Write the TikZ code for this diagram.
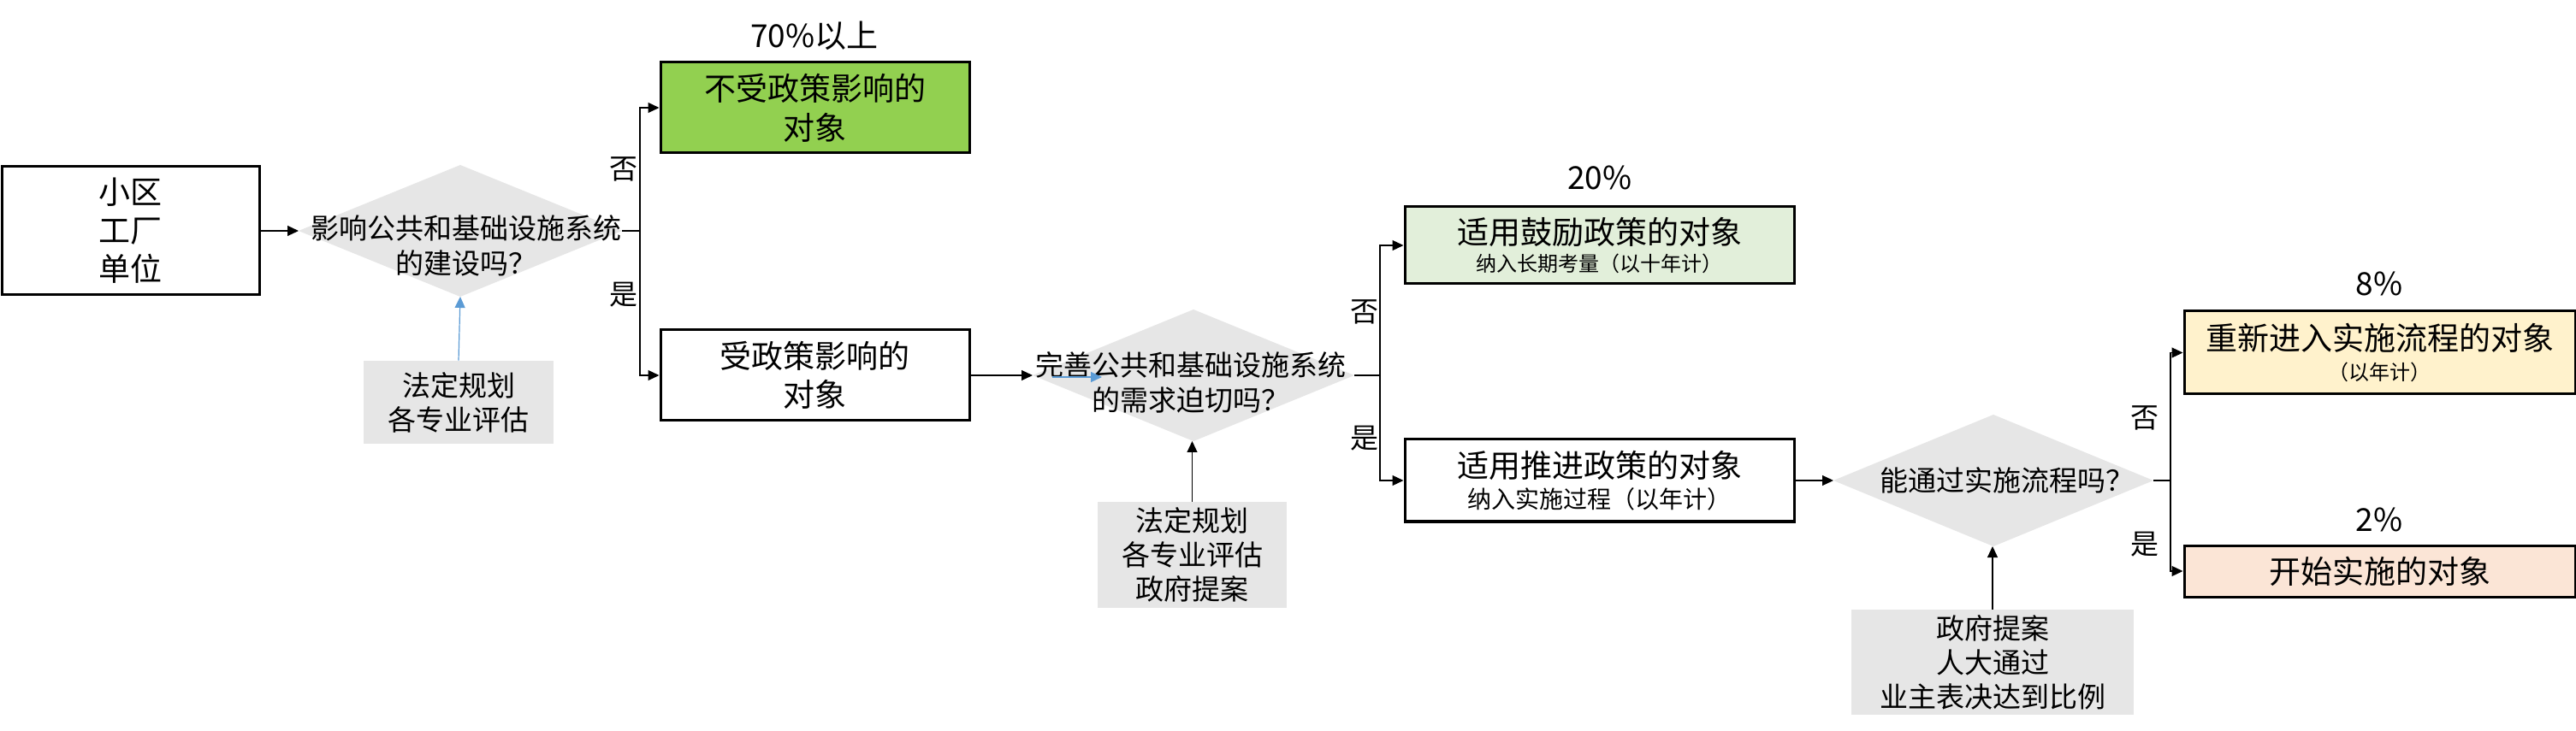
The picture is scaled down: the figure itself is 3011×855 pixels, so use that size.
\documentclass[tikz,border=0pt]{standalone}
\usepackage{fontspec}
\setmainfont{Noto Sans CJK SC}
\usetikzlibrary{shapes.geometric,arrows.meta}
\definecolor{grayfill}{HTML}{E6E6E6}
\definecolor{greenA}{HTML}{92D050}
\definecolor{greenL}{HTML}{E2EFDA}
\definecolor{yellowL}{HTML}{FFF2CC}
\definecolor{peachL}{HTML}{FBE5D6}
\definecolor{blueA}{HTML}{5B9BD5}
\newcommand\fsz[2]{\fontsize{#1pt}{#2pt}\selectfont}
\tikzset{
  boxnode/.style={draw, line width=1.5pt, inner sep=0pt, align=center},
  graynode/.style={fill=grayfill, inner sep=0pt, align=center, font=\fsz{16.5}{20}},
  dianode/.style={diamond, fill=grayfill, inner sep=0pt, outer sep=0pt},
  lbl/.style={inner sep=0pt, align=center},
  conn/.style={line width=0.6pt},
  arr/.style={line width=0.6pt, -{Triangle[length=6.5pt,width=6pt]}},
}
\begin{document}
\begin{tikzpicture}[x=0.5pt,y=-0.5pt]
\useasboundingbox (0,0) rectangle (3011,855);
\fill[white] (0,0) rectangle (3011,855);

% first column
\node[boxnode, minimum width=150.5pt, minimum height=75pt, font=\fsz{18.5}{22.5}] (A) at (152.5,270) {小区\\工厂\\单位};
\node[dianode, minimum width=189pt, minimum height=77pt] (d1) at (538,270) {};
\node[lbl, font=\fsz{16.5}{20.5}] (t1) at (545,287) {影响公共和基础设施系统\\的建设吗？};
\node[graynode, minimum width=111pt, minimum height=48.5pt] (g1) at (536,470.5) {法定规划\\各专业评估};

\draw[arr] (A.east) -- (d1.west);
\draw[arr, draw=blueA] (g1.north) -- (d1.south);

% second column
\node[boxnode, fill=greenA, minimum width=180.5pt, minimum height=53pt, font=\fsz{18.5}{23}] (o1) at (952.5,126) {不受政策影响的\\对象};
\node[lbl, font=\fsz{18.5}{22}] (p1) at (952,42) {70\%以上};
\node[boxnode, minimum width=180.5pt, minimum height=53pt, font=\fsz{18.5}{22.5}] (o2) at (952.5,439) {受政策影响的\\对象};
\node[lbl, font=\fsz{16.5}{20}] (n1) at (729,198) {否};
\node[lbl, font=\fsz{16.5}{20}] (y1) at (729,345) {是};
\coordinate (j1) at (748,270);
\draw[conn] (d1.east) -- (j1);
\draw[arr] (j1) |- (o1.west);
\draw[arr] (j1) |- (o2.west);

% second decision
\node[dianode, minimum width=188pt, minimum height=77pt] (d2) at (1395,439) {};
\node[lbl, font=\fsz{16.5}{20.5}] (t2) at (1392,447) {完善公共和基础设施系统\\的需求迫切吗？};
\node[graynode, minimum width=110.5pt, minimum height=62pt] (g2) at (1393.5,649) {法定规划\\各专业评估\\政府提案};
\draw[arr] (o2.east) -- (d2.west);
\draw[arr] (g2.north) -- (g2.north |- d2.south);
\coordinate (ba1) at (1230,441);
\coordinate (ba2) at (1288,441);
\draw[arr, draw=blueA] (ba1) -- (ba2);

% third column
\node[lbl, font=\fsz{18.5}{22}] (p2) at (1870,208) {20\%};
\node[boxnode, fill=greenL, minimum width=227.5pt, minimum height=45pt, font=\fsz{12}{16}] (r1) at (1869.5,287) {{\fsz{18.5}{16}适用鼓励政策的对象}\\纳入长期考量（以十年计）};
\node[boxnode, minimum width=227.5pt, minimum height=48pt, font=\fsz{14}{18}] (r2) at (1869.5,562) {{\fsz{18.5}{18}适用推进政策的对象}\\纳入实施过程（以年计）};
\node[lbl, font=\fsz{16.5}{20}] (n2) at (1595,365) {否};
\node[lbl, font=\fsz{16.5}{20}] (y2) at (1595,513) {是};
\coordinate (j2) at (1613,439);
\draw[conn] (d2.east) -- (j2);
\draw[arr] (j2) |- (r1.west);
\draw[arr] (j2) |- (r2.west);

% third decision
\node[dianode, minimum width=187pt, minimum height=77pt] (d3) at (2330,562) {};
\node[lbl, font=\fsz{16.5}{20}] (t3) at (2346,562) {能通过实施流程吗？};
\node[graynode, minimum width=165pt, minimum height=61.5pt] (g3) at (2329,774.5) {政府提案\\人大通过\\业主表决达到比例};
\draw[arr] (r2.east) -- (d3.west);
\draw[arr] (g3.north) -- (g3.north |- d3.south);

% last column
\node[lbl, font=\fsz{18.5}{22}] (p3) at (2781,332) {8\%};
\node[boxnode, fill=yellowL, minimum width=228.5pt, minimum height=48.5pt, font=\fsz{12}{17.5}] (s1) at (2781.5,412.5) {{\fsz{18.5}{17.5}重新进入实施流程的对象}\\（以年计）};
\node[lbl, font=\fsz{18.5}{22}] (p4) at (2781,608) {2\%};
\node[boxnode, fill=peachL, minimum width=228.5pt, minimum height=30pt, font=\fsz{18.5}{22}] (s2) at (2781.5,668) {开始实施的对象};
\node[lbl, font=\fsz{16.5}{20}] (n3) at (2507,489) {否};
\node[lbl, font=\fsz{16.5}{20}] (y3) at (2507,637) {是};
\coordinate (j3) at (2537,562);
\draw[conn] (d3.east) -- (j3);
\draw[arr] (j3) |- (s1.west);
\draw[arr] (j3) |- (s2.west);
\end{tikzpicture}
\end{document}
